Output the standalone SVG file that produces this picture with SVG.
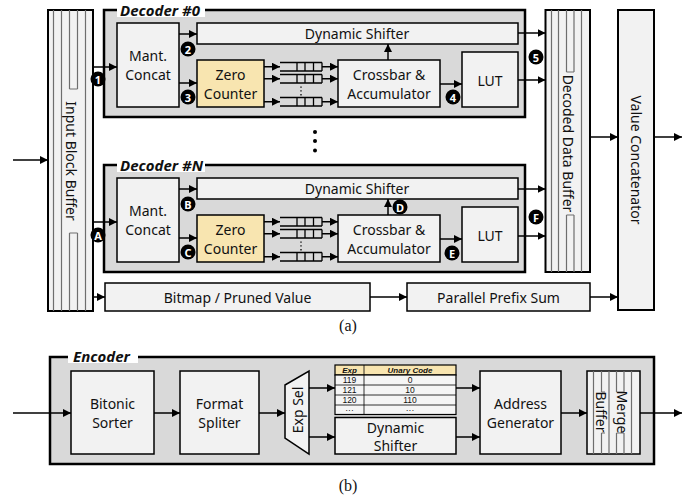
<svg xmlns="http://www.w3.org/2000/svg" width="697" height="500" viewBox="0 0 697 500">
<defs>
<marker id="ah" markerUnits="userSpaceOnUse" markerWidth="8" markerHeight="8" refX="8" refY="4" orient="auto">
<path d="M0,0 L8,4 L0,8 z" fill="#000"/>
</marker>
<style>
.cont{fill:#d9d9d9;stroke:#000;stroke-width:2.5}
.box{fill:#f2f2f2;stroke:#000;stroke-width:1.5}
.yel{fill:#f8e5b0;stroke:#000;stroke-width:1.5}
.buf{fill:#f2f2f2;stroke:#000;stroke-width:2}
.bl{stroke:#6e6e6e;stroke-width:1.2;fill:none}
.q{stroke:#000;stroke-width:1.3;fill:none}
.ar{stroke:#000;stroke-width:1.5;fill:none;marker-end:url(#ah)}
.t{font-family:"Noto Sans","Open Sans",sans-serif;font-size:14px;fill:#111;text-anchor:middle;dominant-baseline:central}
.ttl{font-family:"Noto Sans","Open Sans",sans-serif;font-size:15px;font-weight:bold;font-style:italic;fill:#111}
.cap{font-family:"Liberation Serif",serif;font-size:16px;fill:#111;text-anchor:middle}
.bd circle{fill:#000}
.bd text{font-family:"Noto Sans",sans-serif;font-size:11px;font-weight:bold;fill:#fff;text-anchor:middle;dominant-baseline:central}
.th{font-family:"Liberation Sans",sans-serif;font-size:8px;font-weight:bold;font-style:italic;fill:#111;text-anchor:middle}
.td{font-family:"Liberation Sans",sans-serif;font-size:8.5px;fill:#111;text-anchor:middle}
</style>
</defs>
<rect width="697" height="500" fill="#fff"/>

<!-- Input Block Buffer -->
<g id="input-buffer">
<rect class="buf" x="48" y="10" width="45" height="301"/>
<path class="bl" d="M53.5,10V311 M61.5,10V311 M85.5,10V311 M69.5,10V89 M77.5,10V89 M69.5,89H77.5 M69.5,233V311 M77.5,233V311 M69.5,233H77.5"/>
<text class="t" transform="translate(71,161) rotate(90)">Input Block Buffer</text>
</g>

<!-- Decoder #0 -->
<g id="decoder0">
<rect class="cont" x="104" y="10" width="421" height="107"/>
<rect x="117" y="3" width="88" height="14" fill="#fff"/>
<text class="ttl" x="120" y="16">Decoder #0</text>
<g id="d0-mant"><rect class="box" x="117" y="23" width="62" height="84"/><text class="t" x="148" y="55">Mant.</text><text class="t" x="148" y="74">Concat</text></g>
<g id="d0-shifter"><rect class="box" x="197" y="23" width="321" height="21"/><text class="t" x="357" y="33.5">Dynamic Shifter</text></g>
<g id="d0-zero"><rect class="yel" x="197" y="60" width="67" height="47"/><text class="t" x="230.5" y="74">Zero</text><text class="t" x="230.5" y="93">Counter</text></g>
<g id="d0-queues">
<path class="q" d="M280,62.5H322 M280,71H322 M297,62.5V71 M305,62.5V71 M313.5,62.5V71 M322,62.5V71"/>
<path class="q" d="M280,74.5H322 M280,83H322 M297,74.5V83 M305,74.5V83 M313.5,74.5V83 M322,74.5V83"/>
<path class="q" d="M280,97.5H322 M280,106H322 M297,97.5V106 M305,97.5V106 M313.5,97.5V106 M322,97.5V106"/>
<path d="M301,86.5V96" stroke="#000" stroke-width="1.3" stroke-dasharray="1.3,2.5"/>
</g>
<g id="d0-crossbar"><rect class="box" x="338" y="60" width="102" height="47"/><text class="t" x="389" y="74">Crossbar &amp;</text><text class="t" x="389" y="93">Accumulator</text></g>
<g id="d0-lut"><rect class="box" x="462" y="52" width="56" height="55"/><text class="t" x="490" y="80">LUT</text></g>
</g>

<!-- Decoder #N -->
<g id="decoderN">
<rect class="cont" x="104" y="165" width="421" height="107"/>
<rect x="117" y="158" width="88" height="14" fill="#fff"/>
<text class="ttl" x="120" y="171">Decoder #N</text>
<g id="dN-mant"><rect class="box" x="117" y="178" width="62" height="84"/><text class="t" x="148" y="210">Mant.</text><text class="t" x="148" y="229">Concat</text></g>
<g id="dN-shifter"><rect class="box" x="197" y="178" width="321" height="21"/><text class="t" x="357" y="188.5">Dynamic Shifter</text></g>
<g id="dN-zero"><rect class="yel" x="197" y="215" width="67" height="47"/><text class="t" x="230.5" y="229">Zero</text><text class="t" x="230.5" y="248">Counter</text></g>
<g id="dN-queues">
<path class="q" d="M280,217.5H322 M280,226H322 M297,217.5V226 M305,217.5V226 M313.5,217.5V226 M322,217.5V226"/>
<path class="q" d="M280,229.5H322 M280,238H322 M297,229.5V238 M305,229.5V238 M313.5,229.5V238 M322,229.5V238"/>
<path class="q" d="M280,252.5H322 M280,261H322 M297,252.5V261 M305,252.5V261 M313.5,252.5V261 M322,252.5V261"/>
<path d="M301,241.5V251" stroke="#000" stroke-width="1.3" stroke-dasharray="1.3,2.5"/>
</g>
<g id="dN-crossbar"><rect class="box" x="338" y="215" width="102" height="47"/><text class="t" x="389" y="229">Crossbar &amp;</text><text class="t" x="389" y="248">Accumulator</text></g>
<g id="dN-lut"><rect class="box" x="462" y="207" width="56" height="55"/><text class="t" x="490" y="235">LUT</text></g>
</g>

<!-- vertical ellipsis -->
<g id="ellipsis" fill="#000">
<circle cx="315" cy="132" r="2"/><circle cx="315" cy="141" r="2"/><circle cx="315" cy="150.5" r="2"/>
</g>

<!-- Decoded Data Buffer -->
<g id="decoded-buffer">
<rect class="buf" x="545.5" y="10" width="44.5" height="262"/>
<path class="bl" d="M551.5,10V272 M558.5,10V272 M581.5,10V272 M566.5,10V72 M574,10V72 M566.5,72H574 M566.5,215V272 M574,215V272 M566.5,215H574"/>
<text class="t" transform="translate(568,143.5) rotate(90)">Decoded Data Buffer</text>
</g>

<!-- Value Concatenator -->
<g id="value-concat">
<rect class="buf" x="618" y="10" width="36" height="300"/>
<text class="t" transform="translate(636,160) rotate(90)">Value Concatenator</text>
</g>

<g id="bitmap"><rect class="box" x="105" y="283" width="265" height="28"/><text class="t" x="237.5" y="297">Bitmap / Pruned Value</text></g>
<g id="prefix"><rect class="box" x="407" y="283" width="183" height="28"/><text class="t" x="498.5" y="297">Parallel Prefix Sum</text></g>

<text class="cap" x="348" y="331">(a)</text>

<!-- Encoder -->
<g id="encoder">
<rect class="cont" x="50" y="357" width="604" height="107"/>
<rect x="68" y="349" width="70" height="14" fill="#fff"/>
<text class="ttl" x="73" y="362">Encoder</text>
<g id="bitonic"><rect class="box" x="71" y="371" width="83" height="83"/><text class="t" x="112.5" y="403">Bitonic</text><text class="t" x="112.5" y="422">Sorter</text></g>
<g id="format"><rect class="box" x="180" y="371" width="79" height="83"/><text class="t" x="219.5" y="403">Format</text><text class="t" x="219.5" y="422">Spliter</text></g>
<g id="expsel"><path d="M285,385 L309,371 L309,454 L285,438 Z" fill="#f2f2f2" stroke="#000" stroke-width="1.5"/><text class="t" transform="translate(297.5,410) rotate(-90)">Exp Sel</text></g>
<g id="table">
<rect x="335" y="365" width="121" height="10" fill="#f8e5b0" stroke="#000" stroke-width="1.2"/>
<rect x="335" y="375" width="121" height="39.5" fill="#f5f5f5" stroke="#000" stroke-width="1.2"/>
<path d="M335,385H456 M335,395H456 M335,405H456 M364,365V414.5" stroke="#000" stroke-width="0.8" fill="none"/>
<text class="th" x="349.5" y="373">Exp</text><text class="th" x="410" y="373">Unary Code</text>
<text class="td" x="349.5" y="383.2">119</text><text class="td" x="410" y="383.2">0</text>
<text class="td" x="349.5" y="393">121</text><text class="td" x="410" y="393">10</text>
<text class="td" x="349.5" y="402.8">120</text><text class="td" x="410" y="402.8">110</text>
<text class="td" x="349.5" y="413">···</text><text class="td" x="410" y="413">···</text>
</g>
<g id="enc-shifter"><rect class="box" x="335" y="417.5" width="121" height="36.5"/><text class="t" x="395.5" y="427">Dynamic</text><text class="t" x="395.5" y="445">Shifter</text></g>
<g id="addrgen"><rect class="box" x="480" y="371" width="81" height="83"/><text class="t" x="520.5" y="403">Address</text><text class="t" x="520.5" y="422">Generator</text></g>
<g id="merge">
<rect class="box" x="587" y="371" width="53" height="83"/>
<path class="bl" d="M593.5,371V454 M609,371V454 M631.5,371V454 M601.5,371V392 M601.5,433V454 M616.5,371V392 M616.5,433V454 M624,371V392 M624,433V454 M601.5,392H605 M601.5,433H605 M616.5,392H624 M616.5,433H624"/>
<text class="t" transform="translate(622,412) rotate(90)">Merge</text>
<text class="t" transform="translate(601,412) rotate(90)">Buffer</text>
</g>
</g>

<text class="cap" x="348" y="491">(b)</text>

<!-- connectors -->
<g id="connectors">
<path class="ar" d="M13,160H48"/>
<path class="ar" d="M93,67H117"/>
<path class="ar" d="M179,34H197"/>
<path class="ar" d="M179,83H197"/>
<path class="ar" d="M264,66.75H280"/>
<path class="ar" d="M264,78.75H280"/>
<path class="ar" d="M264,101.75H280"/>
<path class="ar" d="M322,66.75H338"/>
<path class="ar" d="M322,78.75H338"/>
<path class="ar" d="M322,101.75H338"/>
<path class="ar" d="M388,60V44"/>
<path class="ar" d="M440,84H462"/>
<path class="ar" d="M518,33H545.5"/>
<path class="ar" d="M518,80H545.5"/>

<path class="ar" d="M93,222H117"/>
<path class="ar" d="M179,189H197"/>
<path class="ar" d="M179,238H197"/>
<path class="ar" d="M264,221.75H280"/>
<path class="ar" d="M264,233.75H280"/>
<path class="ar" d="M264,256.75H280"/>
<path class="ar" d="M322,221.75H338"/>
<path class="ar" d="M322,233.75H338"/>
<path class="ar" d="M322,256.75H338"/>
<path class="ar" d="M388,215V199"/>
<path class="ar" d="M440,239H462"/>
<path class="ar" d="M518,189H545.5"/>
<path class="ar" d="M518,236H545.5"/>

<path class="ar" d="M590,137H618"/>
<path class="ar" d="M654,137H682"/>
<path class="ar" d="M93,297H105"/>
<path class="ar" d="M370,297H407"/>
<path class="ar" d="M590,297H618"/>

<path class="ar" d="M13,413H71"/>
<path class="ar" d="M154,413H180"/>
<path class="ar" d="M259,413H285"/>
<path class="ar" d="M309,388H335"/>
<path class="ar" d="M309,437H335"/>
<path class="ar" d="M456,388H480"/>
<path class="ar" d="M456,437H480"/>
<path class="ar" d="M561,413H587"/>
<path class="ar" d="M640,413H682"/>
</g>

<!-- badges -->
<g id="badges" class="bd">
<g id="b1"><circle cx="98" cy="79" r="7.5"/><text x="98" y="79">1</text></g>
<g id="b2"><circle cx="188" cy="49" r="7.5"/><text x="188" y="49">2</text></g>
<g id="b3"><circle cx="188" cy="97" r="7.5"/><text x="188" y="97">3</text></g>
<g id="b4"><circle cx="453" cy="97" r="7.5"/><text x="453" y="97">4</text></g>
<g id="b5"><circle cx="536" cy="57" r="7.5"/><text x="536" y="57">5</text></g>
<g id="bA"><circle cx="98" cy="235" r="7.5"/><text x="98" y="235">A</text></g>
<g id="bB"><circle cx="188" cy="204" r="7.5"/><text x="188" y="204">B</text></g>
<g id="bC"><circle cx="188" cy="252" r="7.5"/><text x="188" y="252">C</text></g>
<g id="bD"><circle cx="400" cy="207" r="7.5"/><text x="400" y="207">D</text></g>
<g id="bE"><circle cx="452" cy="253" r="7.5"/><text x="452" y="253">E</text></g>
<g id="bF"><circle cx="536" cy="217" r="7.5"/><text x="536" y="217">F</text></g>
</g>
</svg>
